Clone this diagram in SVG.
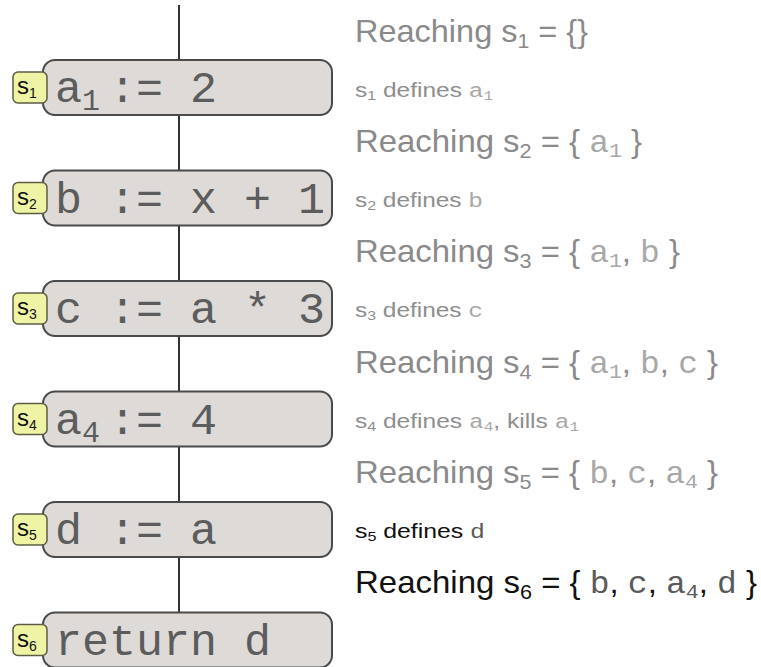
<svg xmlns="http://www.w3.org/2000/svg" width="761" height="667" viewBox="0 0 761 667">
  <style>
    .box { fill: #dddad7; stroke: #4a4a4a; stroke-width: 2; }
    .badge { fill: #eef4a4; stroke: #5c5c44; stroke-width: 1.5; }
    .code { font-family: "Courier New", "Liberation Mono", monospace; font-size: 45px; fill: #5c5c5c; }
    .code .sub { font-size: 30px; }
    .tag { font-family: "Liberation Sans", Arial, sans-serif; font-size: 24px; fill: #111; }
    .tag .sub { font-size: 14px; }
    .big { font-family: "Liberation Sans", Arial, sans-serif; font-size: 32px; fill: #8a8a8a; }
    .big .sub { font-size: 21px; }
    .small { font-family: "Liberation Sans", Arial, sans-serif; font-size: 20px; fill: #8e8e8e; }
    .small .sub { font-size: 13px; }
    .mono { font-family: "Courier New", "Liberation Mono", monospace; fill: #a8a8a8; }
    .dark { fill: #111; }
    .dark .mono { fill: #5a5a5a; }
    .edge { stroke: #333; stroke-width: 2; fill: none; }
  </style>

  <!-- control-flow spine through the statements -->
  <g id="connectors">
    <line class="edge" x1="179" y1="5" x2="179" y2="613"/>
  </g>

  <g id="s1">
    <rect class="box" x="43" y="60" width="289" height="55" rx="12"/>
    <rect class="badge" x="13" y="72" width="34" height="31" rx="5"/>
    <text class="tag" x="17" y="94">s<tspan class="sub" dy="4">1</tspan></text>
    <text class="code" x="55" y="102">a<tspan class="sub" dy="8">1</tspan><tspan x="109" dy="-8">:= 2</tspan></text>
  </g>

  <g id="s2">
    <rect class="box" x="43" y="170.5" width="289" height="55" rx="12"/>
    <rect class="badge" x="13" y="182.5" width="34" height="31" rx="5"/>
    <text class="tag" x="17" y="204.5">s<tspan class="sub" dy="4">2</tspan></text>
    <text class="code" x="55" y="212.5">b := x + 1</text>
  </g>

  <g id="s3">
    <rect class="box" x="43" y="281" width="289" height="55" rx="12"/>
    <rect class="badge" x="13" y="293" width="34" height="31" rx="5"/>
    <text class="tag" x="17" y="315">s<tspan class="sub" dy="4">3</tspan></text>
    <text class="code" x="55" y="323">c := a * 3</text>
  </g>

  <g id="s4">
    <rect class="box" x="43" y="391.5" width="289" height="55" rx="12"/>
    <rect class="badge" x="13" y="403.5" width="34" height="31" rx="5"/>
    <text class="tag" x="17" y="425.5">s<tspan class="sub" dy="4">4</tspan></text>
    <text class="code" x="55" y="433.5">a<tspan class="sub" dy="8">4</tspan><tspan x="109" dy="-8">:= 4</tspan></text>
  </g>

  <g id="s5">
    <rect class="box" x="43" y="502" width="289" height="55" rx="12"/>
    <rect class="badge" x="13" y="514" width="34" height="31" rx="5"/>
    <text class="tag" x="17" y="536">s<tspan class="sub" dy="4">5</tspan></text>
    <text class="code" x="55" y="544">d := a</text>
  </g>

  <g id="s6">
    <rect class="box" x="43" y="612.5" width="289" height="55" rx="12"/>
    <rect class="badge" x="13" y="624.5" width="34" height="31" rx="5"/>
    <text class="tag" x="17" y="646.5">s<tspan class="sub" dy="4">6</tspan></text>
    <text class="code" x="55" y="654.5">return d</text>
  </g>

  <!-- reaching-definition annotations -->
  <g id="annotations">
    <text class="big" x="355" y="42" textLength="233" lengthAdjust="spacingAndGlyphs">Reaching s<tspan class="sub" dy="6">1</tspan><tspan dy="-6"> = {}</tspan></text>
    <text class="small" x="355" y="97" textLength="138" lengthAdjust="spacingAndGlyphs">s<tspan class="sub" dy="3">1</tspan><tspan dy="-3"> defines </tspan><tspan class="mono">a</tspan><tspan class="mono sub" dy="3">1</tspan></text>

    <text class="big" x="355" y="152" textLength="287" lengthAdjust="spacingAndGlyphs">Reaching s<tspan class="sub" dy="6">2</tspan><tspan dy="-6"> = { </tspan><tspan class="mono">a</tspan><tspan class="mono sub" dy="5">1</tspan><tspan dy="-5"> }</tspan></text>
    <text class="small" x="355" y="207" textLength="128" lengthAdjust="spacingAndGlyphs">s<tspan class="sub" dy="3">2</tspan><tspan dy="-3"> defines </tspan><tspan class="mono">b</tspan></text>

    <text class="big" x="355" y="262" textLength="325" lengthAdjust="spacingAndGlyphs">Reaching s<tspan class="sub" dy="6">3</tspan><tspan dy="-6"> = { </tspan><tspan class="mono">a</tspan><tspan class="mono sub" dy="5">1</tspan><tspan dy="-5">, </tspan><tspan class="mono">b</tspan> }</text>
    <text class="small" x="355" y="317" textLength="128" lengthAdjust="spacingAndGlyphs">s<tspan class="sub" dy="3">3</tspan><tspan dy="-3"> defines </tspan><tspan class="mono">c</tspan></text>

    <text class="big" x="355" y="373" textLength="363" lengthAdjust="spacingAndGlyphs">Reaching s<tspan class="sub" dy="6">4</tspan><tspan dy="-6"> = { </tspan><tspan class="mono">a</tspan><tspan class="mono sub" dy="5">1</tspan><tspan dy="-5">, </tspan><tspan class="mono">b</tspan>, <tspan class="mono">c</tspan> }</text>
    <text class="small" x="355" y="428" textLength="224" lengthAdjust="spacingAndGlyphs">s<tspan class="sub" dy="3">4</tspan><tspan dy="-3"> defines </tspan><tspan class="mono">a</tspan><tspan class="mono sub" dy="3">4</tspan><tspan dy="-3">, kills </tspan><tspan class="mono">a</tspan><tspan class="mono sub" dy="3">1</tspan></text>

    <text class="big" x="355" y="483" textLength="363" lengthAdjust="spacingAndGlyphs">Reaching s<tspan class="sub" dy="6">5</tspan><tspan dy="-6"> = { </tspan><tspan class="mono">b</tspan>, <tspan class="mono">c</tspan>, <tspan class="mono">a</tspan><tspan class="mono sub" dy="5">4</tspan><tspan dy="-5"> }</tspan></text>
    <text class="small dark" x="355" y="538" textLength="130" lengthAdjust="spacingAndGlyphs">s<tspan class="sub" dy="3">5</tspan><tspan dy="-3"> defines </tspan><tspan class="mono">d</tspan></text>

    <text class="big dark" x="355" y="593" textLength="402" lengthAdjust="spacingAndGlyphs">Reaching s<tspan class="sub" dy="6">6</tspan><tspan dy="-6"> = { </tspan><tspan class="mono">b</tspan>, <tspan class="mono">c</tspan>, <tspan class="mono">a</tspan><tspan class="mono sub" dy="5">4</tspan><tspan dy="-5">, </tspan><tspan class="mono">d</tspan> }</text>
  </g>
</svg>
